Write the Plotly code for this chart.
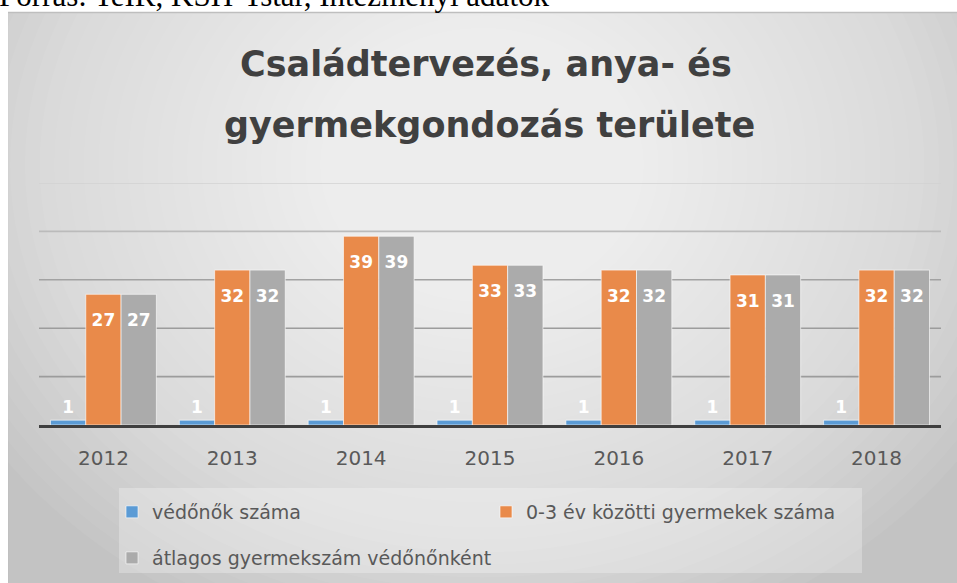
import plotly.graph_objs as go

# data
years = ['2012', '2013', '2014', '2015', '2016', '2017', '2018']
vedonok = [1, 1, 1, 1, 1, 1, 1]
gyermekek = [27, 32, 39, 33, 32, 31, 32]
atlag = [27, 32, 39, 33, 32, 31, 32]
grid_vals = [10, 20, 30, 40, 50]
grid_colors = ['#9C9C9C', '#9C9C9C', '#A2A2A2', '#BBBBBB', '#D2D2D2']

W, H = 957, 583
L, R, T, B = 39, 16, 183, 158
PW, PH = W - L - R, H - T - B


def px(x):
    return (x - L) / PW


def py(y):
    return (H - B - y) / PH


font = 'DejaVu Sans, sans-serif'
label_font = dict(color='white', size=17, family=font, weight='bold')
# small blank first line pushes the inside labels a bit below the bar top
inside_tpl = '<span style="font-size:8px">\u00a0</span><br>%{y}'

data = [
    go.Bar(x=years, y=vedonok, name='védőnők száma', marker_color='#5B9BD5',
           marker_line=dict(color='rgba(255,255,255,0.6)', width=1),
           text=vedonok, textposition='outside', textfont=label_font,
           legend='legend'),
    go.Bar(x=years, y=gyermekek, name='0-3 év közötti gyermekek száma', marker_color='#E98A4A',
           marker_line=dict(color='rgba(255,255,255,0.6)', width=1),
           text=gyermekek, texttemplate=inside_tpl, textposition='inside',
           insidetextanchor='end', textangle=0, textfont=label_font,
           legend='legend'),
    go.Bar(x=years, y=atlag, name='átlagos gyermekszám védőnőnként', marker_color='#ABABAB',
           marker_line=dict(color='rgba(255,255,255,0.6)', width=1),
           text=atlag, texttemplate=inside_tpl, textposition='inside',
           insidetextanchor='end', textangle=0, textfont=label_font,
           legend='legend2'),
]

# background: frame + radial-ish gradient made of stacked ellipses
shapes = [dict(type='rect', xref='paper', yref='paper', layer='below',
               x0=px(8), x1=px(W + 5), y0=py(12), y1=py(H + 5),
               fillcolor='#C3C3C3', line=dict(color='#BDBDBD', width=1))]
cx, cy, n = 482, 165, 40
for i in range(n):
    k = 1 - i / n
    shapes.append(dict(type='circle', xref='paper', yref='paper', layer='below',
                       x0=px(cx - 590 * k), x1=px(cx + 590 * k),
                       y0=py(cy + 500 * k), y1=py(cy - 500 * k),
                       fillcolor='rgba(255,255,255,0.05)', line_width=0))
# white border outside the frame
shapes.append(dict(type='rect', xref='paper', yref='paper', layer='below',
                   x0=px(-20), x1=px(8), y0=py(-20), y1=py(H + 20),
                   fillcolor='white', line_width=0))
shapes.append(dict(type='rect', xref='paper', yref='paper', layer='below',
                   x0=px(-20), x1=px(W + 20), y0=py(-20), y1=py(12),
                   fillcolor='white', line_width=0))
shapes.append(dict(type='line', xref='paper', yref='paper', layer='below',
                   x0=px(8), x1=px(W + 5), y0=py(12.5), y1=py(12.5),
                   line=dict(color='#BEBEBE', width=1.5)))
# legend box
shapes.append(dict(type='rect', xref='paper', yref='paper', layer='below',
                   x0=px(119), x1=px(862), y0=py(488), y1=py(573),
                   fillcolor='rgba(255,255,255,0.28)', line_width=0))
# gridlines
for v, c in zip(grid_vals, grid_colors):
    shapes.append(dict(type='line', xref='paper', yref='y', layer='below',
                       x0=0, x1=1, y0=v, y1=v, line=dict(color=c, width=1.6)))

annotations = [
    dict(text='Forrás: TeIR, KSH-Tstar, Intézményi adatok', xref='paper', yref='paper',
         x=px(-3), y=py(15), xanchor='left', yanchor='bottom', showarrow=False,
         font=dict(family='Liberation Serif, Times New Roman, serif', size=31, color='black')),
    dict(text='Családtervezés, anya- és', xref='paper', yref='paper',
         x=px(486), y=py(64.5), xanchor='center', yanchor='middle', showarrow=False,
         font=dict(family=font, size=35, color='#404040', weight='bold')),
    dict(text='gyermekgondozás területe', xref='paper', yref='paper',
         x=px(489), y=py(124.5), xanchor='center', yanchor='middle', showarrow=False,
         font=dict(family=font, size=35, color='#404040', weight='bold')),
]

layout = go.Layout(
    width=W, height=H,
    margin=dict(l=L, r=R, t=T, b=B, autoexpand=False),
    paper_bgcolor='white', plot_bgcolor='rgba(0,0,0,0)',
    barmode='group', bargap=0.178, bargroupgap=0,
    font=dict(family=font, color='#595959'),
    xaxis=dict(type='category', showline=True, linecolor='#3F3F3F', linewidth=3,
               ticks='', ticklabelstandoff=13, tickfont=dict(size=20, color='#595959'),
               showgrid=False),
    yaxis=dict(range=[0, 50], showgrid=False, zeroline=False, showticklabels=False),
    shapes=shapes,
    annotations=annotations,
    legend=dict(orientation='h', x=px(112), xanchor='left', y=py(512), yanchor='middle',
                entrywidth=329, bgcolor='rgba(0,0,0,0)', font=dict(size=19, color='#595959')),
    legend2=dict(orientation='h', x=px(112), xanchor='left', y=py(558), yanchor='middle',
                 bgcolor='rgba(0,0,0,0)', font=dict(size=19, color='#595959')),
    showlegend=True,
)

fig = go.Figure(data=data, layout=layout)
fig.update_traces(cliponaxis=False)
# the page's default body margin would shift the chart by 8px
fig.write_html("out.html", config={'displayModeBar': False},
               post_script="document.body.style.margin='0';"
                           "document.documentElement.style.overflow='hidden';")
